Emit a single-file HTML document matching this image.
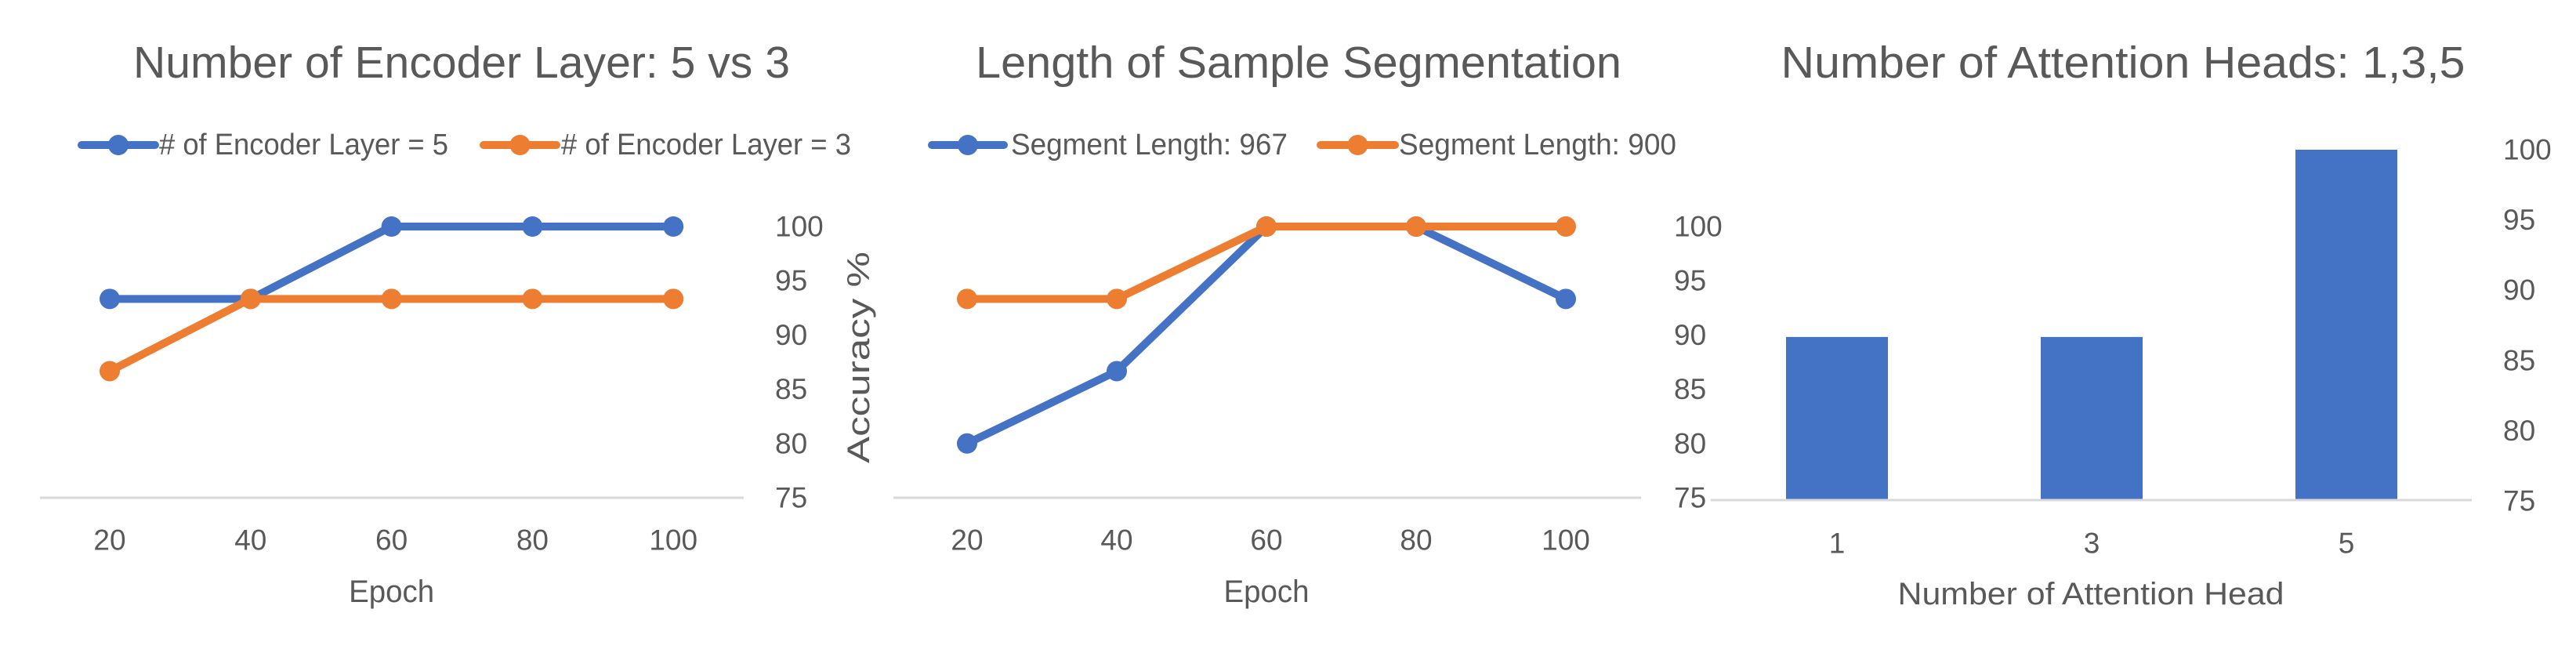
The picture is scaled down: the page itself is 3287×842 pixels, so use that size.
<!DOCTYPE html>
<html><head><meta charset="utf-8"><style>
html,body{margin:0;padding:0;background:#fff;}
svg{display:block;font-family:"Liberation Sans",sans-serif;}
text{fill:#595959;}
</style></head><body>
<svg id="c" width="3287" height="842" viewBox="0 0 3287 842" xmlns="http://www.w3.org/2000/svg"></svg>
<script>
const epochs = ["20","40","60","80","100"];
const layer5 = [93.33,93.33,100,100,100];
const layer3 = [86.67,93.33,93.33,93.33,93.33];
const seg967 = [80,86.67,100,100,93.33];
const seg900 = [93.33,93.33,100,100,100];
const heads = ["1","3","5"];
const headAcc = [86.67,86.67,100];
const yTicks = [75,80,85,90,95,100];

const svg = document.getElementById('c');
const NS = "http://www.w3.org/2000/svg";
function mk(tag, attrs, parent){
  const e = document.createElementNS(NS, tag);
  for (const k in attrs) e.setAttribute(k, attrs[k]);
  (parent||svg).appendChild(e);
  return e;
}
function txt(s, x, y, size, opts, parent){
  const t = mk('text', {x:x, y:y, 'font-size':size, 'text-anchor':opts.anchor||'middle', 'dominant-baseline':'central'}, parent);
  if (opts.len){ t.setAttribute('textLength', opts.len); t.setAttribute('lengthAdjust','spacingAndGlyphs'); }
  if (opts.rot) t.setAttribute('transform', 'rotate(-90 '+x+' '+y+')');
  t.textContent = s;
  return t;
}
const BLUE="#4472c4", ORANGE="#ed7d31";

function lineChart(cfg){
  const g = mk('g', {});
  
  
  const yScale = v => cfg.y0 - (v-75)/25*(cfg.y0-cfg.y100);
  const xScale = i => cfg.x0 + i*cfg.dx;
  const tt = txt(cfg.title, cfg.titleX, 80, 57, {len:cfg.titleW}, g);
  
  
  // axis line
  const ax = mk('line', {x1:cfg.axL, x2:cfg.axR, y1:cfg.y0, y2:cfg.y0, stroke:'#d9d9d9', 'stroke-width':3}, g);
  
  
  // y ticks
  yTicks.forEach(v=>{
    const t = txt(String(v), cfg.tickX, yScale(v), 37, {anchor:'start'}, g);
    
    
  });
  epochs.forEach((e,i)=>{
    const t = txt(e, xScale(i), 689, 37, {}, g);
    
    
  });
  const xt = txt('Epoch', xScale(2), 755, 40, {len:109}, g);
  
  
  cfg.series.forEach(s=>{
    const pts = s.data.map((v,i)=>xScale(i)+','+yScale(v)).join(' ');
    const pl = mk('polyline', {points:pts, fill:'none', stroke:s.color, 'stroke-width':10, 'stroke-linejoin':'round'}, g);
    
    
    s.data.forEach((v,i)=>{
      const c = mk('circle', {cx:xScale(i), cy:yScale(v), r:13, fill:s.color}, g);
      
      
    });
    // legend
    const lg = mk('g', {}, g);
    
    
    mk('line', {x1:s.lx1, x2:s.lx2, y1:185, y2:185, stroke:s.color, 'stroke-width':10, 'stroke-linecap':'round'}, lg);
    mk('circle', {cx:(s.lx1+s.lx2)/2, cy:185, r:13, fill:s.color}, lg);
    txt(s.label, s.tx, 185, 38, {anchor:'start', len:s.tw}, lg);
  });
  return g;
}

lineChart({name:'encoder-layer-chart', title:'Number of Encoder Layer: 5 vs 3', titleX:589, titleW:838,
  x0:140, dx:179.8, y0:635, y100:289, axL:51, axR:949, tickX:989,
  series:[
    {key:'layer5', data:layer5, color:BLUE, label:'# of Encoder Layer = 5', lx1:104, lx2:198, tx:203, tw:369},
    {key:'layer3', data:layer3, color:ORANGE, label:'# of Encoder Layer = 3', lx1:617, lx2:710, tx:716, tw:370}
  ]});
lineChart({name:'segment-length-chart', title:'Length of Sample Segmentation', titleX:1657, titleW:824,
  x0:1234, dx:191, y0:635, y100:289, axL:1140, axR:2094, tickX:2136,
  series:[
    {key:'seg967', data:seg967, color:BLUE, label:'Segment Length: 967', lx1:1189, lx2:1281, tx:1290, tw:353},
    {key:'seg900', data:seg900, color:ORANGE, label:'Segment Length: 900', lx1:1685, lx2:1780, tx:1785, tw:354}
  ]});
const yt = txt('Accuracy %', 1096, 456, 40, {rot:true, len:270});



// bar chart
(function(){
  const g = mk('g', {});
  
  
  const y0 = 639, y100 = 191;
  const yScale = v => y0 - (v-75)/25*(y0-y100);
  const xScale = i => 2344 + i*325;
  const tt = txt('Number of Attention Heads: 1,3,5', 2709, 80, 57, {len:873}, g);
  
  
  headAcc.forEach((v,i)=>{
    const r = mk('rect', {x:xScale(i)-65, y:yScale(v), width:130, height:y0-yScale(v), fill:BLUE}, g);
    
    
  });
  const ax = mk('line', {x1:2183, x2:3154, y1:638, y2:638, stroke:'#d9d9d9', 'stroke-width':3}, g);
  
  
  yTicks.forEach(v=>{
    const t = txt(String(v), 3194, yScale(v), 37, {anchor:'start'}, g);
    
    
  });
  heads.forEach((h,i)=>{
    const t = txt(h, xScale(i), 693, 37, {}, g);
    
    
  });
  const xt = txt('Number of Attention Head', 2668, 758, 40, {len:493}, g);
  
  
})();
</script>
</body></html>
